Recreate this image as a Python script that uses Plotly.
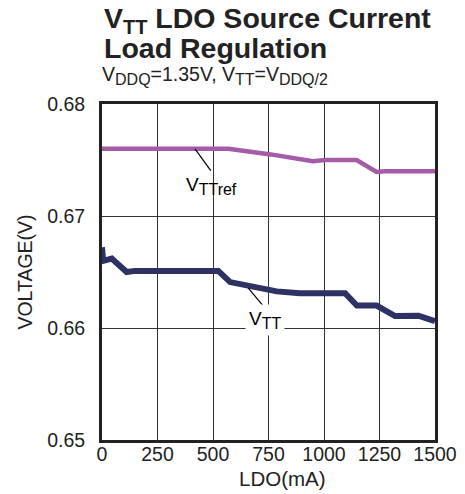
import plotly.graph_objects as go

# Data
vttref_x = [0, 569, 760, 950, 1005, 1147, 1237, 1275, 1500]
vttref_y = [0.6760, 0.6760, 0.6755, 0.6749, 0.6750, 0.6750, 0.67394, 0.6740, 0.6740]

vtt_x = [0, 5, 44, 111, 149, 524, 577, 712, 787, 892, 1095, 1148, 1237, 1320, 1425, 1500]
vtt_y = [0.6672, 0.6660, 0.6662, 0.6650, 0.6651, 0.6651, 0.6641, 0.66365, 0.66327, 0.6631,
         0.6631, 0.6620, 0.6620, 0.66107, 0.6611, 0.6606]

x_ticks = [0, 250, 500, 750, 1000, 1250, 1500]
y_ticks = [0.65, 0.66, 0.67, 0.68]

FONT = "Liberation Sans, Arial, sans-serif"
PLOT_H = 494 - 104 - 54
PLOT_W = 465 - 102 - 30


def sub(t, px):
    return f"<sub><span style='font-size:{px}px'>{t}</span></sub>"


fig = go.Figure()
fig.add_trace(go.Scatter(x=vttref_x, y=vttref_y, mode="lines",
                         line=dict(color="#a45ba8", width=4.5), showlegend=False))
fig.add_trace(go.Scatter(x=vtt_x, y=vtt_y, mode="lines",
                         line=dict(color="#2e3163", width=6), showlegend=False))

# leader lines
fig.add_shape(type="line", x0=419, y0=0.6760, x1=490, y1=0.67406,
              line=dict(color="black", width=1.2))
fig.add_shape(type="line", x0=659, y0=0.66356, x1=727, y1=0.66196,
              line=dict(color="black", width=1.2))

fig.add_annotation(x=495, y=0.67272, text="V" + sub("TTref", 16), showarrow=False,
                   font=dict(family=FONT, size=19, color="black"))
fig.add_annotation(x=735, y=0.66075, text="V" + sub("TT", 16), showarrow=False,
                   font=dict(family=FONT, size=19, color="black"),
                   bgcolor="white", borderpad=3)

# titles
fig.add_annotation(xref="paper", yref="paper", x=0, y=1 + 104 / PLOT_H,
                   xanchor="left", yanchor="top", showarrow=False, align="left",
                   text="<b>V<sub>TT</sub> LDO Source Current</b>",
                   font=dict(family=FONT, size=28.5, color="#222"))
fig.add_annotation(xref="paper", yref="paper", x=0, y=1 + 74 / PLOT_H,
                   xanchor="left", yanchor="top", showarrow=False, align="left",
                   text="<b>Load Regulation</b>",
                   font=dict(family=FONT, size=28.5, color="#222"))
fig.add_annotation(xref="paper", yref="paper", x=-0.006, y=1 + 43 / PLOT_H,
                   xanchor="left", yanchor="top", showarrow=False, align="left",
                   text="V" + sub("DDQ", 16) + "=1.35V, V" + sub("TT", 16) + "=V" + sub("DDQ/2", 16),
                   font=dict(family=FONT, size=19.5, color="#222"))

# x-axis title
fig.add_annotation(xref="paper", yref="paper", x=(282 - 102) / PLOT_W, y=-(25 / PLOT_H),
                   xanchor="center", yanchor="top", showarrow=False,
                   text="LDO(mA)", font=dict(family=FONT, size=20.5, color="#222"))

fig.update_layout(
    width=465, height=494,
    margin=dict(l=102, r=30, t=104, b=54, autoexpand=False),
    paper_bgcolor="white", plot_bgcolor="white",
    font=dict(family=FONT, size=19.5, color="#222"),
    xaxis=dict(range=[0, 1500], tickvals=x_ticks, ticktext=[str(v) for v in x_ticks],
               showgrid=True, gridcolor="#333", gridwidth=1,
               showline=True, linecolor="#222", linewidth=3, mirror=True,
               ticks="", ticklabelstandoff=-5, automargin=False),
    yaxis=dict(range=[0.65, 0.68], tickvals=y_ticks, ticktext=[f"{v:.2f}" for v in y_ticks],
               showgrid=True, gridcolor="#333", gridwidth=1,
               showline=True, linecolor="#222", linewidth=3, mirror=True,
               ticks="", ticklabelstandoff=10, automargin=False,
               title=dict(text="VOLTAGE(V)", font=dict(size=19.5), standoff=10)),
)

fig.write_html("out.html", config={"displayModeBar": False},
               post_script="document.body.style.margin='0';")
